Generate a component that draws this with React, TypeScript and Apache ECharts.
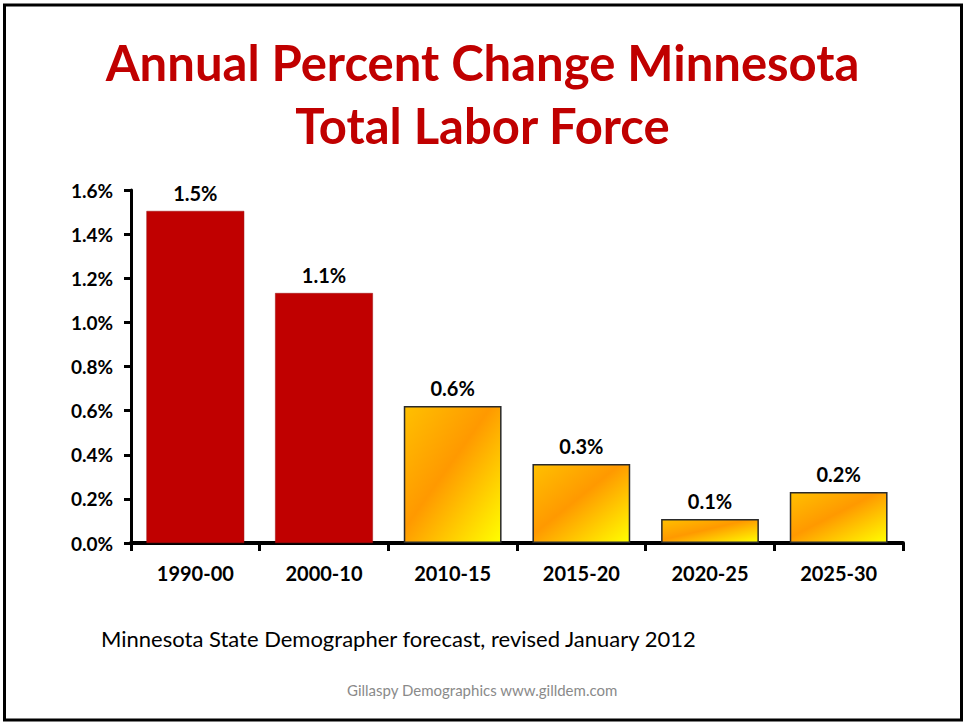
import React, { useEffect, useRef } from "react";
import * as echarts from "echarts";

const categories = ["1990-00", "2000-10", "2010-15", "2015-20", "2020-25", "2025-30"];
const values = [1.505, 1.133, 0.621, 0.358, 0.109, 0.231];
const valueLabels = ["1.5%", "1.1%", "0.6%", "0.3%", "0.1%", "0.2%"];
const isHistoric = [true, true, false, false, false, false];

const titleLines = ["Annual Percent Change Minnesota", "Total Labor Force"];
const sourceNote = "Minnesota State Demographer forecast, revised January 2012";
const credit = "Gillaspy Demographics www.gilldem.com";

const FONT = "Lato, 'Open Sans', 'DejaVu Sans', sans-serif";

export default function App() {
  const ref = useRef<HTMLDivElement>(null);
  useEffect(() => {
    if (!ref.current) return;
    const chart = echarts.init(ref.current, null, { renderer: "svg" });
    const gold = new echarts.graphic.LinearGradient(0, 0, 1, 1, [
      { offset: 0, color: "#FFC000" },
      { offset: 0.45, color: "#FF9900" },
      { offset: 1, color: "#FFFF00" },
    ]);
    const data = values.map((v, i) => ({
      value: v,
      itemStyle: isHistoric[i]
        ? { color: "#C00000", borderColor: "#9a1010", borderWidth: 0.5 }
        : { color: gold, borderColor: "#2a2a2a", borderWidth: 1.5 },
      label: { formatter: valueLabels[i] },
    }));
    chart.setOption({
      animation: false,
      backgroundColor: "#ffffff",
      textStyle: { fontFamily: FONT },
      title: [
        {
          text: titleLines.join("\n"),
          left: "center",
          top: 25,
          textStyle: {
            color: "#C00000",
            fontSize: 49,
            fontWeight: "bold",
            fontFamily: FONT,
            lineHeight: 63,
          },
        },
      ],
      graphic: [
        {
          type: "rect",
          shape: { x: 4.5, y: 5, width: 957, height: 715 },
          style: { fill: "none", stroke: "#000", lineWidth: 3 },
          silent: true,
          z: 100,
        },
        {
          type: "text",
          left: 101,
          top: 627,
          style: { text: sourceNote, fill: "#000", fontSize: 22, fontFamily: FONT },
        },
        {
          type: "text",
          left: "center",
          top: 682,
          style: { text: credit, fill: "#8a8a8a", fontSize: 15, fontFamily: FONT },
        },
      ],
      grid: { left: 131, right: 62, top: 190, bottom: 180, containLabel: false },
      xAxis: {
        type: "category",
        data: categories,
        axisLine: { lineStyle: { color: "#000", width: 4 } },
        axisTick: { show: true, length: 8, lineStyle: { color: "#000", width: 3 } },
        axisLabel: { color: "#000", fontWeight: "bold", fontSize: 20, margin: 20, fontFamily: FONT },
      },
      yAxis: {
        type: "value",
        min: 0,
        max: 1.6,
        interval: 0.2,
        axisLine: { show: true, lineStyle: { color: "#000", width: 3 } },
        axisTick: { show: true, length: 7, lineStyle: { color: "#000", width: 3 } },
        splitLine: { show: false },
        axisLabel: {
          color: "#000",
          fontWeight: "bold",
          fontSize: 19,
          margin: 18,
          fontFamily: FONT,
          formatter: (v: number) => v.toFixed(1) + "%",
        },
      },
      series: [
        {
          type: "bar",
          data,
          barCategoryGap: "24%",
          label: {
            show: true,
            position: "top",
            distance: 8,
            color: "#000",
            fontWeight: "bold",
            fontSize: 20,
            fontFamily: FONT,
          },
        },
      ],
    });
    return () => chart.dispose();
  }, []);
  return (
    <div
      ref={ref}
      style={{ position: "fixed", left: 0, top: 0, width: 965, height: 723 }}
    />
  );
}
